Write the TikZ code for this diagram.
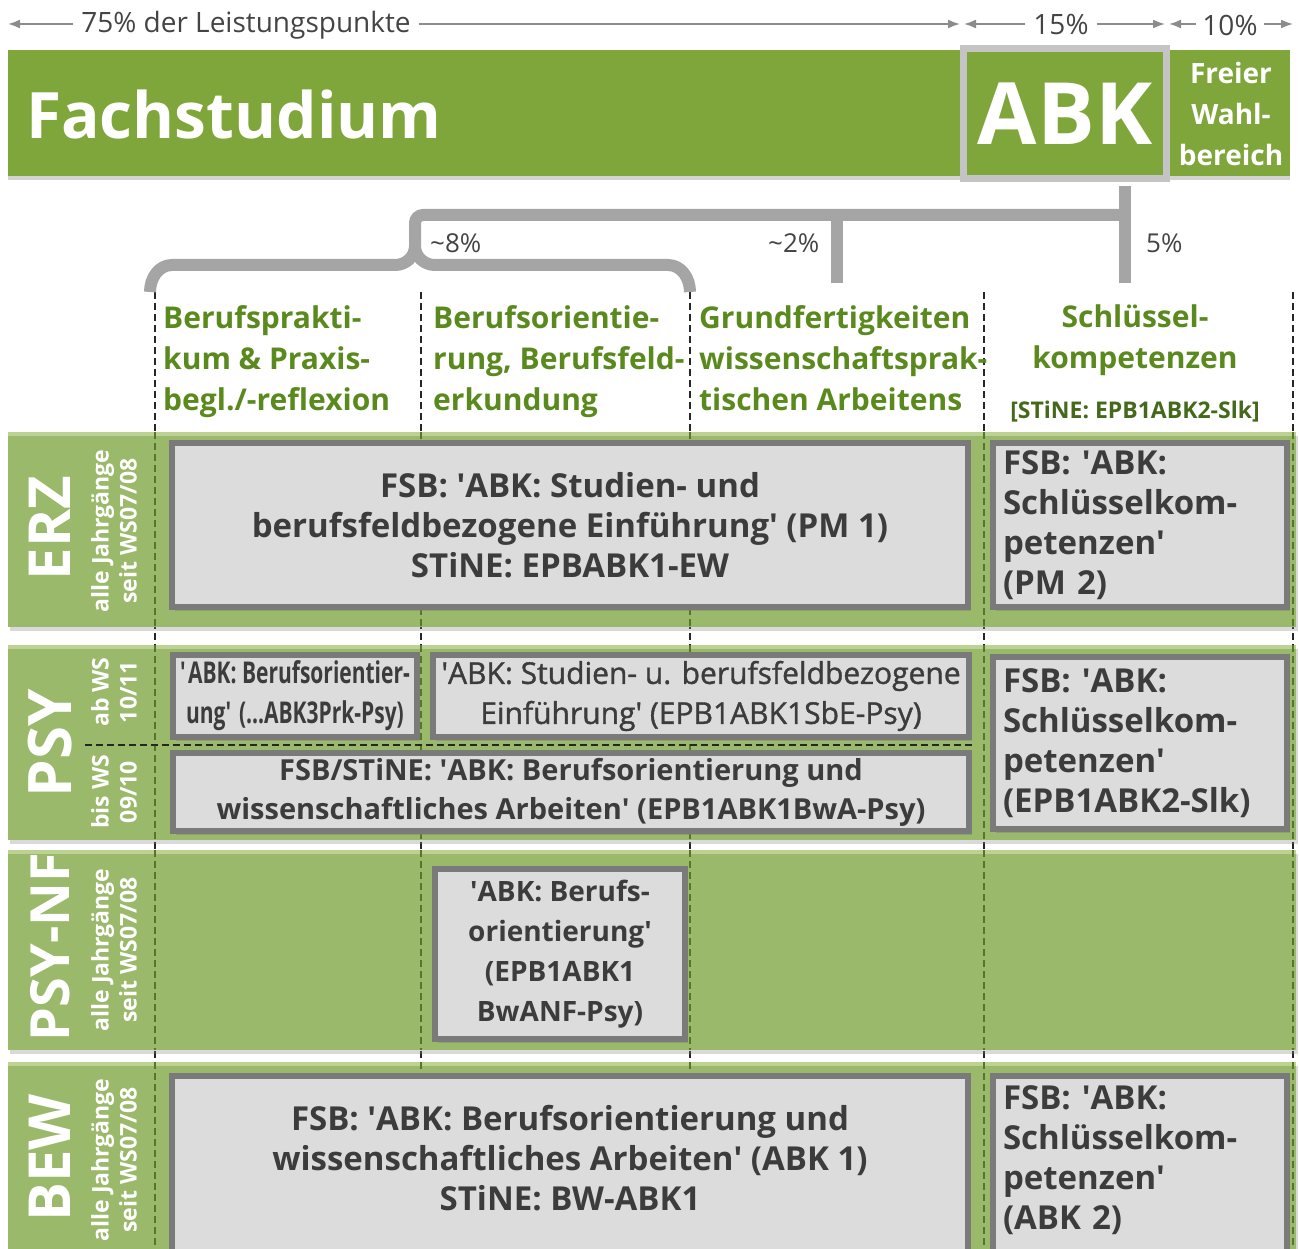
\documentclass[tikz,border=0pt]{standalone}
\usepackage{fontspec}
\setmainfont{Open Sans}
\newfontfamily\condfont[FakeStretch=0.7]{Open Sans}
\newfontfamily\semifont[FakeBold=1.2]{Open Sans}
\newcommand{\qs}{\textquotesingle}
\usetikzlibrary{arrows.meta,shadows}
\definecolor{hgreen}{HTML}{7FA63A}
\definecolor{bgreen}{HTML}{9AB96A}
\definecolor{bstripe}{HTML}{BBD292}
\definecolor{tgreen}{HTML}{5A8A1E}
\definecolor{sgreen}{HTML}{44691A}
\definecolor{boxfill}{HTML}{DCDCDC}
\definecolor{boxline}{HTML}{7A7A7A}
\definecolor{boxtext}{HTML}{3C3C3C}
\definecolor{conn}{HTML}{A5A5A5}
\definecolor{arr}{HTML}{8C8C8C}
\definecolor{toptext}{HTML}{444444}
\definecolor{abkline}{HTML}{C4C4C4}
\definecolor{dgreen}{HTML}{55772C}
\begin{document}
\begin{tikzpicture}[x=1pt,y=-1pt,
  every node/.style={inner sep=0pt},
  hdrband/.style={fill=hgreen, minimum width=1282pt, minimum height=126pt,
    drop shadow={shadow xshift=0pt,shadow yshift=-4pt,opacity=.35}},
  abkbox/.style={fill=hgreen, draw=abkline, line width=7pt, minimum width=203pt, minimum height=130pt,
    text=white, font=\bfseries\fontsize{86}{90}\selectfont,
    drop shadow={shadow xshift=3pt,shadow yshift=-3pt,opacity=.3}},
  band/.style={fill=bgreen, minimum width=1288pt,
    drop shadow={shadow xshift=2pt,shadow yshift=-4pt,opacity=.3}},
  stripe/.style={draw=bstripe, line width=4pt},
  gbox/.style={fill=boxfill, draw=boxline, line width=6pt,
    drop shadow={shadow xshift=3pt,shadow yshift=-4pt,opacity=.45},
    text=boxtext, align=center, font=\bfseries\fontsize{33}{40}\selectfont},
  gboxl/.style={gbox, align=left, text width=274pt, inner xsep=10pt},
  btext/.style={text=boxtext, align=center, font=\bfseries\fontsize{33}{40}\selectfont},
  btextl/.style={btext, align=left, text width=274pt},
  toplbl/.style={text=toptext, font=\fontsize{28}{32}\selectfont, inner xsep=8pt},
  toparrow/.style={draw=arr, line width=1.8pt, -{Latex[length=12pt,width=9pt]}},
  connline/.style={draw=conn, line width=12pt},
  pct/.style={text=toptext, font=\fontsize{26}{30}\selectfont},
  colhead/.style={text=tgreen, font=\bfseries\fontsize{30}{41}\selectfont, align=left},
  stine/.style={text=sgreen, font=\bfseries\fontsize{23}{26}\selectfont},
  coldash/.style={draw=black!85, line width=1.4pt, dash pattern=on 7pt off 4pt},
  banddash/.style={draw=dgreen, line width=1.4pt, dash pattern=on 7pt off 4pt},
  biglbl/.style={rotate=90, text=white, font=\bfseries\fontsize{58}{60}\selectfont},
  smalllbl/.style={rotate=90, text=white, align=center, font=\bfseries\fontsize{23}{28}\selectfont}
]
\useasboundingbox (0,0) rectangle (1299,1249);

% column dashed lines
\foreach \cx in {155,421,690,984,1293} \draw[coldash] (\cx,292) -- (\cx,1249);

% top dimension arrows
\node[toplbl] (lp) at (246,25) {75\% der Leistungspunkte};
\coordinate (lpL) at (8,24);
\coordinate (lpR) at (960,24);
\draw[toparrow] (lp.west |- lpL) -- (lpL);
\draw[toparrow] (lp.east |- lpR) -- (lpR);
\node[toplbl] (p15) at (1061,25) {15\%};
\coordinate (p15L) at (964,24);
\coordinate (p15R) at (1165,24);
\draw[toparrow] (p15.west |- p15L) -- (p15L);
\draw[toparrow] (p15.east |- p15R) -- (p15R);
\node[toplbl, inner xsep=6pt] (p10) at (1230,25) {10\%};
\coordinate (p10L) at (1169,24);
\coordinate (p10R) at (1293,24);
\draw[toparrow] (p10.west |- p10L) -- (p10L);
\draw[toparrow] (p10.east |- p10R) -- (p10R);

% header band
\node[hdrband] (hdr) at (649,113) {};
\node[anchor=base west, text=white, font=\bfseries\fontsize{64}{70}\selectfont] (fach) at (26,139) {Fachstudium};

% ABK box and connectors
\node[abkbox] (abk) at (1065,113.5) {ABK};
\node[text=white, align=center, font=\bfseries\fontsize{28}{41}\selectfont] (frei) at (1231,114) {Freier\\Wahl-\\bereich};
\coordinate (c5) at (1125,283);
\coordinate (c2) at (837,283);
\coordinate (c2t) at (837,215);
\coordinate (bl) at (415,215);
\coordinate (br) at (1125,215);
\coordinate (bt) at (415,246);
\coordinate (bL) at (150,292);
\coordinate (bR) at (690,292);
\draw[connline, shorten <=4pt] (abk.south -| c5) -- (c5);
\draw[connline, rounded corners=8pt] (br) -- (bl) -- (bt);
\draw[connline] (c2t) -- (c2);
\draw[connline, line join=round] (bt) to[out=-90,in=0] (395,265) -- (172,265) to[out=180,in=90] (bL);
\draw[connline, line join=round] (bt) to[out=-90,in=180] (435,265) -- (668,265) to[out=0,in=90] (bR);

% percentages
\node[pct, anchor=west] (pc8) at (430,243) {\textasciitilde8\%};
\node[pct, anchor=west] (pc2) at (768,243) {\textasciitilde2\%};
\node[pct, anchor=west] (pc5) at (1146,243) {5\%};

% column headers (base = baseline of last line)
\node[colhead, anchor=base west] (h1) at (163,410) {Berufsprakti-\\kum \& Praxis-\\begl./-reflexion};
\node[colhead, anchor=base west] (h2) at (433,410) {Berufsorientie-\\rung, Berufsfeld-\\erkundung};
\node[colhead, anchor=base west] (h3) at (699,410) {Grundfertigkeiten\\wissenschaftsprak-\\tischen Arbeitens};
\node[colhead, align=center, anchor=base] (h4) at (1135,369) {Schlüssel-\\kompetenzen};
\node[stine, anchor=base] (h4s) at (1135,418) {[STiNE: EPB1ABK2-Slk]};

% bands
\node[band, minimum height=195pt] (erz) at (652,529.5) {};
\node[band, minimum height=195pt] (psy) at (652,742.5) {};
\node[band, minimum height=200pt] (psynf) at (652,950) {};
\node[band, minimum height=200pt] (bew) at (652,1162) {};
\foreach \b in {erz,psy,psynf,bew}
  \draw[stripe] ([yshift=-2pt]\b.north west) -- ([yshift=-2pt]\b.north east);
\foreach \ya/\yb in {432/627,645/840,850/1050,1062/1249}
  \foreach \cx in {155,421,690,984,1293}
    \draw[banddash] (\cx,\ya) -- (\cx,\yb);
\draw[coldash] (85,745) -- (975,745);

% row labels
\node[biglbl] (lerz) at (50,528) {ERZ};
\node[smalllbl] (serz) at (114,531) {alle Jahrgänge\\seit WS07/08};
\node[biglbl, font=\bfseries\fontsize{60}{62}\selectfont] (lpsy) at (50,743) {PSY};
\node[smalllbl] (spsya) at (114,692) {ab WS\\10/11};
\node[smalllbl] (spsyb) at (114,792) {bis WS\\09/10};
\node[biglbl, font=\bfseries\fontsize{54}{56}\selectfont] (lpsynf) at (50,947) {PSY-NF};
\node[smalllbl] (spsynf) at (114,950) {alle Jahrgänge\\seit WS07/08};
\node[biglbl] (lbew) at (50,1158) {BEW};
\node[smalllbl] (sbew) at (114,1160) {alle Jahrgänge\\seit WS07/08};

% ERZ boxes
\node[gbox, minimum width=796pt, minimum height=164pt] (erz1) at (570,525)
  {FSB: \qs ABK: Studien- und\\berufsfeldbezogene Einführung\qs\ (PM 1)\\STiNE: EPBABK1-EW};
\node[gboxl, minimum width=294pt, minimum height=164pt] (erz2) at (1140,525)
  {FSB: \qs ABK:\\Schlüsselkom-\\petenzen\qs\\(PM 2)};

% PSY boxes
\node[gbox, minimum width=244pt, minimum height=82pt, font=\condfont\bfseries\fontsize{30}{40}\selectfont] (psy1) at (295,696)
  {\qs ABK: Berufsorientier-\\ung\qs\ (...ABK3Prk-Psy)};
\node[gbox, minimum width=536pt, minimum height=82pt, font=\semifont\fontsize{30}{40}\selectfont] (psy2) at (701,696)
  {\qs ABK: Studien- u. berufsfeldbezogene\\Einführung\qs\ (EPB1ABK1SbE-Psy)};
\node[gbox, minimum width=796pt, minimum height=78pt, font=\bfseries\fontsize{29}{39}\selectfont] (psy3) at (571,792)
  {FSB/STiNE: \qs ABK: Berufsorientierung und\\wissenschaftliches Arbeiten\qs\ (EPB1ABK1BwA-Psy)};
\node[gboxl, minimum width=294pt, minimum height=172pt] (psy4) at (1140,743)
  {FSB: \qs ABK:\\Schlüsselkom-\\petenzen\qs\\(EPB1ABK2-Slk)};

% PSY-NF box
\node[gbox, minimum width=250pt, minimum height=170pt, font=\bfseries\fontsize{28}{40}\selectfont] (nf1) at (560,954)
  {\qs ABK: Berufs-\\orientierung\qs\\(EPB1ABK1\\BwANF-Psy)};

% BEW boxes
\node[gbox, minimum width=796pt, minimum height=190pt] (bew1) at (570,1171) {};
\node[btext] (bew1t) at (570,1158)
  {FSB: \qs ABK: Berufsorientierung und\\wissenschaftliches Arbeiten\qs\ (ABK 1)\\STiNE: BW-ABK1};
\node[gbox, minimum width=294pt, minimum height=190pt] (bew2) at (1140,1171) {};
\node[btextl] (bew2t) at (1140,1160)
  {FSB: \qs ABK:\\Schlüsselkom-\\petenzen\qs\\(ABK 2)};
\end{tikzpicture}
\end{document}
